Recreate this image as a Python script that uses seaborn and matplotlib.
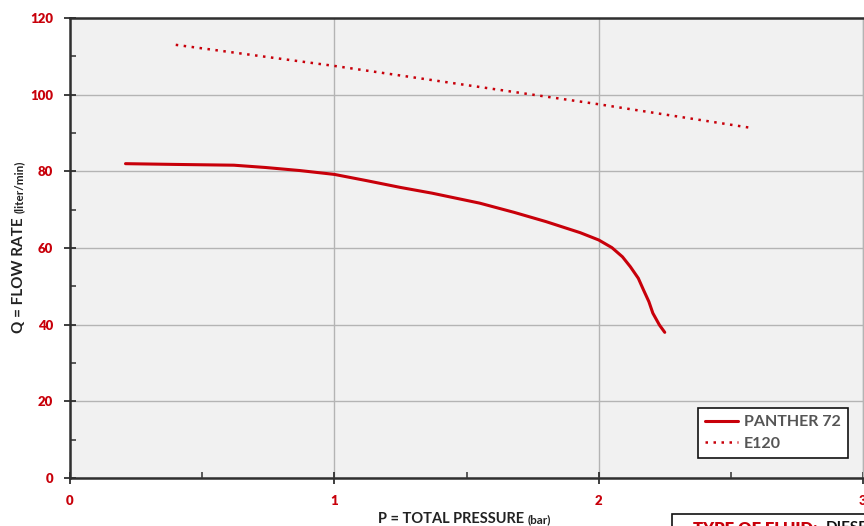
import matplotlib

matplotlib.use("Agg")
import matplotlib.pyplot as plt
import pandas as pd
import seaborn as sns
from matplotlib.patches import Rectangle
from matplotlib.ticker import MultipleLocator

# values
panther_pressure = [0.21, 0.40, 0.62, 0.74, 0.87, 1.00, 1.12, 1.25, 1.37, 1.55,
                    1.68, 1.80, 1.93, 2.00, 2.05, 2.09, 2.12, 2.15, 2.17, 2.19,
                    2.205, 2.23, 2.25]
panther_flow = [82.0, 81.8, 81.6, 81.0, 80.2, 79.2, 77.6, 75.8, 74.3, 71.7,
                69.3, 66.9, 64.0, 62.1, 60.1, 57.7, 55.1, 52.1, 49.0, 46.0,
                43.0, 39.9, 38.0]
e120_pressure = [0.40, 1.00, 2.00, 2.58]
e120_flow = [113.0, 107.5, 97.5, 91.3]
series_names = ["PANTHER 72", "E120"]
x_ticks = [0, 1, 2, 3]
y_ticks = [0, 20, 40, 60, 80, 100, 120]

RED = "#c8000a"
DARK = "#2f2f2f"
INK = "#222222"

sns.set_style("ticks", {"axes.facecolor": "#f1f1f1"})
plt.rcParams["font.family"] = ["Lato", "DejaVu Sans"]

fig = plt.figure(figsize=(8.64, 5.26), dpi=100)
ax = fig.add_axes([70 / 864, 48 / 526, 793 / 864, 460 / 526])

df_p = pd.DataFrame({"pressure": panther_pressure, "flow": panther_flow})
df_e = pd.DataFrame({"pressure": e120_pressure, "flow": e120_flow})

sns.lineplot(data=df_p, x="pressure", y="flow", ax=ax, color=RED,
             linewidth=2.2, label=series_names[0])
sns.lineplot(data=df_e, x="pressure", y="flow", ax=ax, color=RED,
             linewidth=1.8, linestyle=(0, (1, 2.2)), label=series_names[1])
for ln in ax.get_lines():
    ln.set_solid_joinstyle("round")

ax.set_xlim(0, 3)
ax.set_ylim(0, 120)
ax.set_xticks(x_ticks)
ax.set_yticks(y_ticks)
ax.xaxis.set_minor_locator(MultipleLocator(0.5))
ax.yaxis.set_minor_locator(MultipleLocator(10))
ax.grid(True, which="major", color="#b4b4b4", linewidth=1.0)
ax.set_axisbelow(True)

ax.tick_params(which="major", direction="inout", length=8, width=1.3,
               color=DARK, labelcolor=RED, labelsize=9.5, pad=8)
ax.tick_params(which="minor", direction="in", length=4, width=1.1, color=DARK)
for lab in ax.get_xticklabels() + ax.get_yticklabels():
    lab.set_fontweight("heavy")

for side in ["left", "bottom", "top"]:
    ax.spines[side].set_color(DARK)
    ax.spines[side].set_linewidth(1.8)
ax.spines["right"].set_color("#b4b4b4")
ax.spines["right"].set_linewidth(1.0)

ax.set_xlabel("")
ax.set_ylabel("")

# axis titles: main part plus a smaller unit part on the same baseline
xt = fig.text(378 / 864, 1 - 523 / 526, "P = TOTAL PRESSURE", ha="left",
              va="baseline", fontsize=10.5, fontweight="bold", color=INK)
yt = fig.text(23 / 864, 1 - 333 / 526, "Q = FLOW RATE", rotation=90,
              rotation_mode="anchor", ha="left", va="baseline", fontsize=11,
              fontweight="bold", color=INK)
fig.canvas.draw()
xb = xt.get_window_extent()
yb = yt.get_window_extent()
fig.text((xb.x1 + 4) / 864, 1 - 523 / 526, "(bar)", ha="left", va="baseline",
         fontsize=8.5, fontweight="bold", color=INK)
fig.text(23 / 864, (yb.y1 + 4) / 526, "(liter/min)", rotation=90,
         rotation_mode="anchor", ha="left", va="baseline", fontsize=8.5,
         fontweight="bold", color=INK)

leg = ax.legend(loc="lower right", bbox_to_anchor=(0.981, 0.0435),
                borderaxespad=0, frameon=True, fancybox=False, fontsize=11.5,
                handlelength=2.1, handletextpad=0.35, borderpad=0.45,
                labelspacing=0.45)
leg.get_frame().set_edgecolor("#111111")
leg.get_frame().set_linewidth(1.2)
leg.get_frame().set_facecolor("white")
leg.get_frame().set_alpha(1)
for t in leg.get_texts():
    t.set_color("#555555")
    t.set_fontweight("bold")

# partially visible info box below the chart
fig.patches.append(Rectangle((672 / 864, -0.05), 0.25, 0.05 + 12 / 526,
                             transform=fig.transFigure, facecolor="white",
                             edgecolor="#111111", linewidth=1.2))
fig.text(693 / 864, 1 - 521 / 526, "TYPE OF FLUID:", ha="left", va="top",
         fontsize=12, fontweight="heavy", color=RED)
fig.text(826 / 864, 1 - 521 / 526, "DIESEL", ha="left", va="top",
         fontsize=11, fontweight="bold", color="#111111")

fig.savefig("out.png", dpi=100)
